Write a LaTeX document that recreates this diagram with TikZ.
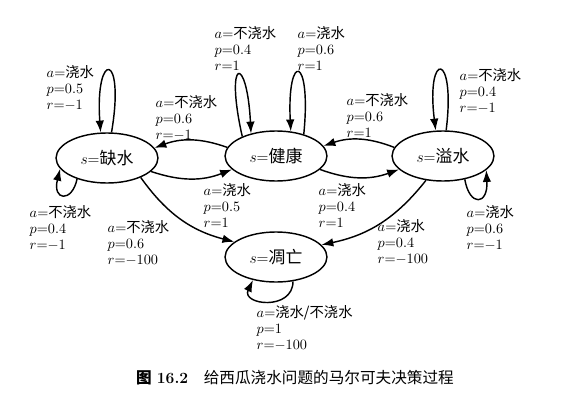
\documentclass[tikz,border=0pt]{standalone}
\usepackage{fontspec}
\newfontfamily\cjk{Noto Sans CJK SC}
\usetikzlibrary{arrows.meta,shapes.geometric}
\tikzset{
  state/.style={draw,ellipse,minimum width=2.75cm,minimum height=1.35cm,inner sep=0pt,font=\fontsize{13}{15}\selectfont},
  lbl/.style={anchor=north west,align=left,inner sep=0pt,font=\fontsize{11}{12.2}\selectfont}
}
\newcommand{\trn}[3]{$a{=}${\cjk #1}\\$p{=}#2$\\$r{=}{#3}$}

\begin{document}
\begin{tikzpicture}[x=0.027cm,y=-0.027cm,>={Latex[length=3.2mm,width=2.3mm]},line width=1.1pt]
  \useasboundingbox (0,0) rectangle (565,413);
  \node[state] (sq) at (107,158) {$s{=}${\cjk 缺水}};
  \node[state] (sj) at (276,156) {$s{=}${\cjk 健康}};
  \node[state] (sy) at (443,156) {$s{=}${\cjk 溢水}};
  \node[state] (sd) at (276,257) {$s{=}${\cjk 凋亡}};

  % self loops
  \draw[->] (sq.80) .. controls +(14,-82) and +(-6,-82) .. (sq.104);
  \draw[->] (sq.215) .. controls +(-5,24) and +(-8,32) .. (sq.193);
  \draw[->] (sj.150) .. controls +(-18,-80) and +(-4,-80) .. (sj.138);
  \draw[->] (sj.38) .. controls +(8,-80) and +(-4,-80) .. (sj.59);
  \draw[->] (sy.83) .. controls +(10,-80) and +(-10,-80) .. (sy.106);
  \draw[->] (sy.313) .. controls +(5,28) and +(2,35) .. (sy.-18);
  \draw[->] (sd.305) .. controls +(0,30) and +(-12,25) .. (sd.225);

  % transitions
  \draw[->] (sj.170) to[bend right=20] (sq.12);
  \draw[->] (sq.-17) to[bend right=20] (sj.197);
  \draw[->] (sy.170) to[bend right=20] (sj.12);
  \draw[->] (sj.-17) to[bend right=20] (sy.197);
  \draw[->] (sq.-30) to[bend right=20] (sd.160);
  \draw[->] (sy.235) to[bend left=20] (sd.15);

  % labels
  \node[lbl] (l1) at (46,65) {\trn{浇水}{0.5}{-1}};
  \node[lbl] (l2) at (29,205) {\trn{不浇水}{0.4}{-1}};
  \node[lbl] (l3) at (107,220) {\trn{不浇水}{0.6}{-100}};
  \node[lbl] (l4) at (155,95) {\trn{不浇水}{0.6}{-1}};
  \node[lbl] (l5) at (214,26) {\trn{不浇水}{0.4}{1}};
  \node[lbl] (l6) at (297,26) {\trn{浇水}{0.6}{1}};
  \node[lbl] (l7) at (203,183) {\trn{浇水}{0.5}{1}};
  \node[lbl] (l8) at (318,183) {\trn{浇水}{0.4}{1}};
  \node[lbl] (l9) at (346,93) {\trn{不浇水}{0.6}{1}};
  \node[lbl] (l10) at (459,68) {\trn{不浇水}{0.4}{-1}};
  \node[lbl] (l11) at (466,205) {\trn{浇水}{0.6}{-1}};
  \node[lbl] (l12) at (377,219) {\trn{浇水}{0.4}{-100}};
  \node[lbl] (l13) at (256,305) {\trn{浇水/不浇水}{1}{-100}};

  \node[font=\fontsize{12}{14}\selectfont] (cap) at (295,378)
    {{\cjk\bfseries 图}~\textbf{16.2}\quad{\cjk 给西瓜浇水问题的马尔可夫决策过程}};
\end{tikzpicture}
\end{document}
